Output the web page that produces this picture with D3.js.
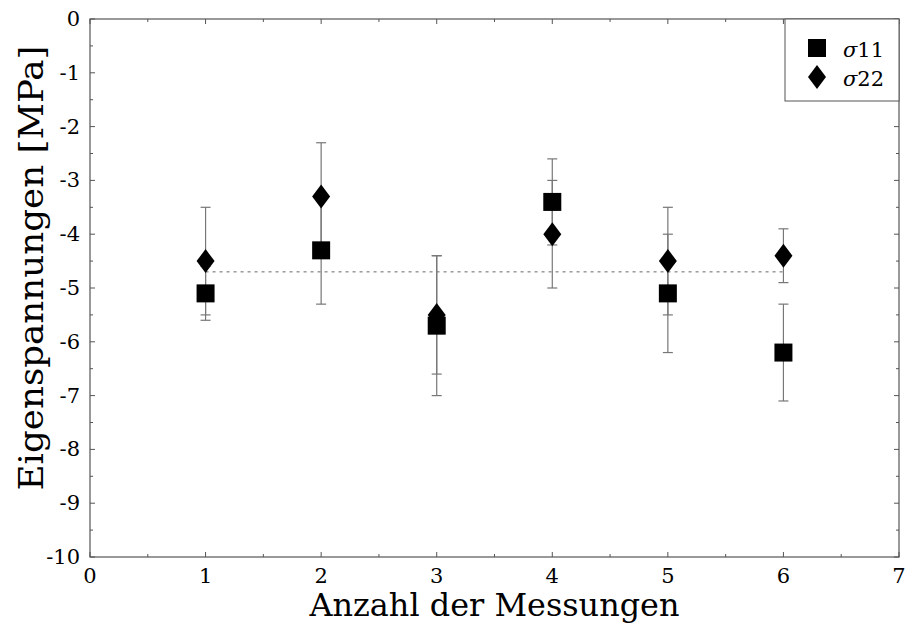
<!DOCTYPE html>
<html><head><meta charset="utf-8">
<script src="https://cdn.jsdelivr.net/npm/d3@7"></script>
<style>body{margin:0;background:#fff}svg{display:block}</style>
</head><body><svg id="c" width="905" height="628"></svg>
<script>
const measurements = [1, 2, 3, 4, 5, 6];
const sigma11 = [-5.1, -4.3, -5.7, -3.4, -5.1, -6.2];
const sigma11Err = [0.5, 1.0, 1.3, 0.8, 1.1, 0.9];
const sigma22 = [-4.5, -3.3, -5.5, -4.0, -4.5, -4.4];
const sigma22Err = [1.0, 1.0, 1.1, 1.0, 1.0, 0.5];
const meanValue = -4.7;
const xTicks = [0, 1, 2, 3, 4, 5, 6, 7];
const yTicks = [0, -1, -2, -3, -4, -5, -6, -7, -8, -9, -10];

const FONT = "'DejaVu Serif', 'Liberation Serif', 'Times New Roman', serif";
const svg = d3.select("#c").attr("font-family", FONT);
const L = 90, R = 899, T = 19, B = 557;
const x = d3.scaleLinear().domain([0, 7]).range([L, R]);
const y = d3.scaleLinear().domain([-10, 0]).range([B, T]);
const axisColor = "#555";

const g = svg.append("g");
g.append("rect").attr("x", L).attr("y", T).attr("width", R - L).attr("height", B - T)
  .attr("fill", "none").attr("stroke", axisColor).attr("stroke-width", 1.2);

const xMinor = d3.range(0.5, 7, 1);
const yMinor = d3.range(-9.5, 0, 1);
function tk(x1, y1, x2, y2) {
  g.append("line").attr("x1", x1).attr("y1", y1).attr("x2", x2).attr("y2", y2)
    .attr("stroke", axisColor).attr("stroke-width", 1);
}
xTicks.forEach(v => { tk(x(v), B, x(v), B - 5); tk(x(v), T, x(v), T + 5); });
xMinor.forEach(v => { tk(x(v), B, x(v), B - 3); tk(x(v), T, x(v), T + 3); });
yTicks.forEach(v => { tk(L, y(v), L + 5, y(v)); tk(R, y(v), R - 5, y(v)); });
yMinor.forEach(v => { tk(L, y(v), L + 3, y(v)); tk(R, y(v), R - 3, y(v)); });

g.selectAll(".xl").data(xTicks).enter().append("text")
  .attr("font-family", FONT)
  .attr("x", d => x(d)).attr("y", 583).attr("text-anchor", "middle")
  .attr("font-size", 21).text(d => d);
g.selectAll(".yl").data(yTicks).enter().append("text")
  .attr("font-family", FONT)
  .attr("x", 80).attr("y", d => y(d) + 7).attr("text-anchor", "end")
  .attr("font-size", 21).text(d => d === 0 ? "0" : "-" + Math.abs(d));

g.append("text").attr("font-family", FONT).attr("x", (L + R) / 2).attr("y", 616).attr("text-anchor", "middle")
  .attr("font-size", 32).attr("textLength", 370).attr("lengthAdjust", "spacingAndGlyphs")
  .text("Anzahl der Messungen");
g.append("text").attr("font-family", FONT).attr("transform", `translate(43,${(T + B) / 2 - 20}) rotate(-90)`)
  .attr("text-anchor", "middle").attr("font-size", 34).attr("textLength", 445).attr("lengthAdjust", "spacingAndGlyphs")
  .text("Eigenspannungen [MPa]");

g.append("line").attr("x1", x(1)).attr("x2", x(6)).attr("y1", y(meanValue)).attr("y2", y(meanValue))
  .attr("stroke", "#666").attr("stroke-width", 1).attr("stroke-dasharray", "3,4");

function errBars(vals, errs) {
  measurements.forEach((m, i) => {
    const cx = x(m), y1 = y(vals[i] + errs[i]), y2 = y(vals[i] - errs[i]);
    g.append("line").attr("x1", cx).attr("x2", cx).attr("y1", y1).attr("y2", y2)
      .attr("stroke", "#777").attr("stroke-width", 1.2);
    [y1, y2].forEach(yy => g.append("line").attr("x1", cx - 5).attr("x2", cx + 5)
      .attr("y1", yy).attr("y2", yy).attr("stroke", "#777").attr("stroke-width", 1.2));
  });
}
errBars(sigma11, sigma11Err);
errBars(sigma22, sigma22Err);

const sq = 18, dw = 9, dh = 12;
const diamond = `M0,${-dh}L${dw},0L0,${dh}L${-dw},0Z`;
g.selectAll(".sq").data(measurements).enter().append("rect")
  .attr("x", d => x(d) - sq / 2).attr("y", (d, i) => y(sigma11[i]) - sq / 2)
  .attr("width", sq).attr("height", sq).attr("fill", "#000");
g.selectAll(".dm").data(measurements).enter().append("path")
  .attr("transform", (d, i) => `translate(${x(d)},${y(sigma22[i])})`)
  .attr("d", diamond).attr("fill", "#000");

const lg = g.append("g");
lg.append("rect").attr("x", 785).attr("y", T).attr("width", R - 785).attr("height", 82)
  .attr("fill", "#fff").attr("stroke", axisColor).attr("stroke-width", 1);
lg.append("rect").attr("x", 808).attr("y", 39).attr("width", sq).attr("height", sq).attr("fill", "#000");
lg.append("path").attr("transform", "translate(817,77)").attr("d", diamond).attr("fill", "#000");
const l1 = lg.append("text").attr("font-family", FONT).attr("x", 843).attr("y", 57).attr("font-size", 21);
l1.append("tspan").attr("font-style", "italic").text("σ");
l1.append("tspan").text("11");
const l2 = lg.append("text").attr("font-family", FONT).attr("x", 843).attr("y", 86).attr("font-size", 21);
l2.append("tspan").attr("font-style", "italic").text("σ");
l2.append("tspan").text("22");
</script></body></html>
